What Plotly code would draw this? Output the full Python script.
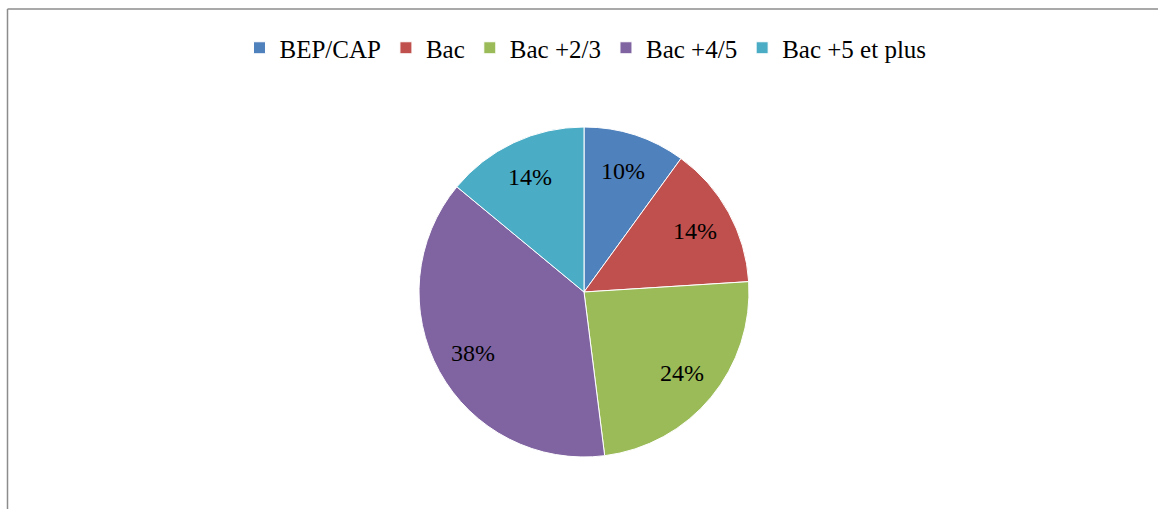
import math
import plotly.graph_objects as go

labels = ["BEP/CAP", "Bac", "Bac +2/3", "Bac +4/5", "Bac +5 et plus"]
values = [10, 14, 24, 38, 14]
colors = ["#4F81BD", "#C0504D", "#9BBB59", "#8064A2", "#4BACC6"]

W, H = 1158, 509
cx, cy, r = 584, 292, 165

fig = go.Figure(go.Pie(
    labels=labels, values=values, sort=False, direction="clockwise", rotation=0,
    marker=dict(colors=colors, line=dict(color="white", width=1)),
    textinfo="none", hoverinfo="label+percent",
    domain=dict(x=[(cx - r) / W, (cx + r) / W], y=[(H - cy - r) / H, (H - cy + r) / H]),
))

total = sum(values)
cum = 0
ann = []
for v in values:
    mid = (cum + v / 2) / total * 2 * math.pi
    cum += v
    px = cx + 0.77 * r * math.sin(mid)
    py = cy - 0.77 * r * math.cos(mid)
    ann.append(dict(x=px / W, y=1 - py / H, xref="paper", yref="paper",
                    xanchor="center", yanchor="middle",
                    text=f"{round(v / total * 100)}%", showarrow=False,
                    font=dict(family="Liberation Serif", size=24, color="black")))

fig.update_layout(
    width=W, height=H, margin=dict(l=0, r=0, t=0, b=0),
    paper_bgcolor="white", plot_bgcolor="white",
    font=dict(family="Liberation Serif", size=24, color="black"),
    legend=dict(orientation="h", x=0.5056, xanchor="center", y=1 - 48 / H, yanchor="middle",
                font=dict(family="Liberation Serif", size=25), itemwidth=30),
    annotations=ann,
    shapes=[
        dict(type="line", xref="paper", yref="paper", x0=7.5 / W, x1=1, y0=1 - 9 / H, y1=1 - 9 / H,
             line=dict(color="#8c8c8c", width=1.5)),
        dict(type="line", xref="paper", yref="paper", x0=7.5 / W, x1=7.5 / W, y0=0, y1=1 - 9 / H,
             line=dict(color="#8c8c8c", width=1.5)),
    ],
)

fig.write_html("out.html", config={"displayModeBar": False},
               post_script="document.body.style.margin='0';document.body.style.overflow='hidden';")
